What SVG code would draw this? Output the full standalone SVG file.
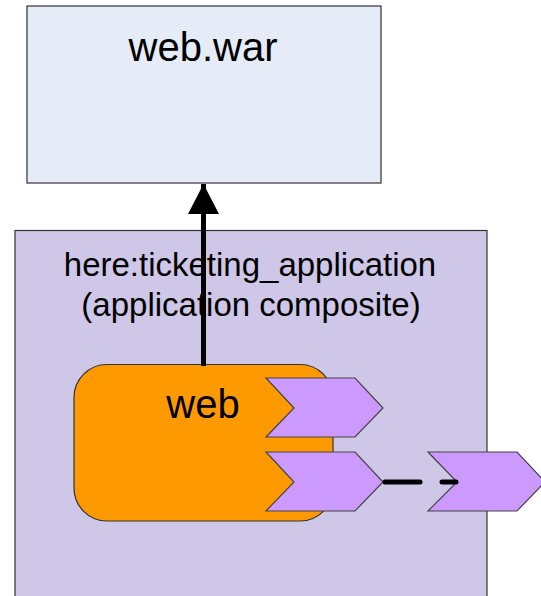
<svg xmlns="http://www.w3.org/2000/svg" width="541" height="596" viewBox="0 0 541 596">
  <defs>
    <style>
      text { font-family: "Liberation Sans", Arial, sans-serif; fill: #000; text-anchor: middle; }
      .box { stroke: #333; stroke-width: 1.2; }
      .service { fill: #cc99ff; stroke: #444; stroke-width: 1.2; stroke-linejoin: miter; }
      .wire { stroke: #000; stroke-width: 5; fill: none; }
    </style>
    <!-- filled triangle pointing along the path direction -->
    <marker id="arrowHead" markerUnits="userSpaceOnUse" markerWidth="30" markerHeight="31" refX="30" refY="15.5" viewBox="0 0 30 31" orient="auto">
      <path d="M0 0 L30 15.5 L0 31 Z" fill="#000"/>
    </marker>
  </defs>

  <!-- deployed artifact -->
  <g id="web-war">
    <rect class="box" x="27" y="6" width="354" height="177" fill="#e6ecf7"/>
    <text x="203" y="61" font-size="40">web.war</text>
  </g>

  <!-- application composite -->
  <g id="ticketing-application">
    <rect class="box" x="15" y="230.5" width="472" height="380" fill="#cfc7e8"/>
    <text x="250" y="276" font-size="33">here:ticketing_application</text>
    <text x="251" y="316" font-size="33">(application composite)</text>
  </g>

  <!-- web component -->
  <g id="web">
    <rect class="box" x="74" y="364.5" width="259" height="156.5" rx="33" ry="33" fill="#ff9900"/>
    <text x="203" y="418" font-size="40">web</text>
  </g>

  <!-- component services -->
  <g id="web-service-1">
    <polygon class="service" points="266,378 355,378 383,408 355,437 266,437 294,408"/>
  </g>
  <g id="web-service-2">
    <polygon class="service" points="266,452 355,452 383,482 355,511 266,511 294,482"/>
  </g>

  <!-- promoted composite service -->
  <g id="composite-service">
    <polygon class="service" points="428,452 517,452 545,482 517,511 428,511 457,482"/>
  </g>

  <g id="connectors">
    <line class="wire" x1="203.5" y1="366" x2="203.5" y2="184" marker-end="url(#arrowHead)"/>
    <line x1="385" y1="482" x2="420" y2="482" stroke="#000" stroke-width="5" stroke-linecap="round"/>
    <line x1="442" y1="482" x2="456" y2="482" stroke="#000" stroke-width="5" stroke-linecap="round"/>
  </g>
</svg>
